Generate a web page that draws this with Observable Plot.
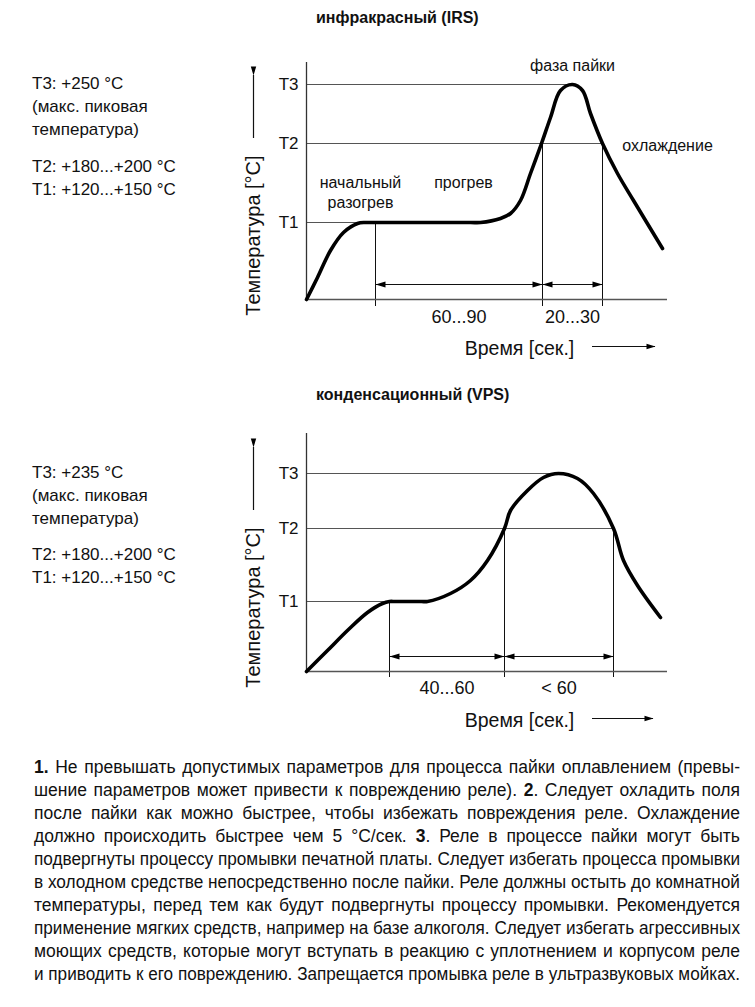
<!DOCTYPE html>
<html><head><meta charset="utf-8">
<script src="https://cdn.jsdelivr.net/npm/d3@7"></script>
<script src="https://cdn.jsdelivr.net/npm/@observablehq/plot@0.6"></script>
<style>
body{margin:0;background:#fff;font-family:"Liberation Sans",Arial,sans-serif;color:#000}
#page{position:relative;width:755px;height:1007px;overflow:hidden;background:#fff}
.abs{position:absolute;white-space:nowrap;z-index:2;color:#111}
.title{font-weight:bold;font-size:16px;line-height:20px}
.note{font-size:17px;line-height:23px}
.cap{font-size:17.5px;line-height:23px}
.plotbox{position:absolute;left:0;z-index:1}
</style></head><body><div id="page"></div>
<script>
// ---------- data ----------
const levelNames = ["T1", "T2", "T3"];

// IRS (infrared) profile, arbitrary time / temperature units
const irsTime = [0, 11, 24, 37, 51, 59, 66, 72, 164, 174, 194, 204, 214, 224, 235, 244, 254, 266, 276, 284, 296, 311, 327, 356];
const irsTemp = [0, 22, 49, 67, 76, 77, 77, 77, 77, 77, 81, 86, 99, 126, 156, 182, 209, 215, 209, 186, 156, 126, 99, 51];
const irsLevels = [77, 156, 215];
const irsLevelEnds = [69, 296, 266];
const irsMarkers = [69, 236, 296];
const irsMarkerLevel = [0, 1, 1];
const irsIntervalLabels = ["60...90", "20...30"];
const irsPhaseLabels = ["начальный", "разогрев", "прогрев", "фаза пайки", "охлаждение"];
const irsPhaseTime = [54, 54, 157, 266, 361];
const irsPhaseTemp = [117, 97, 117, 234, 154];
const irsTitle = "инфракрасный (IRS)";
const irsNotes = [["T3: +250 °C", "(макс. пиковая", "температура)"], ["T2: +180...+200 °C", "T1: +120...+150 °C"]];

// VPS (vapour phase) profile
const vpsTime = [0, 21, 42, 61, 76, 83, 89, 115, 121, 144, 164, 181, 198, 204, 221, 237, 252, 271, 287, 307, 317, 331, 354];
const vpsTemp = [0, 21, 42, 59, 68, 70, 70, 70, 70, 78, 91, 111, 143, 161, 181, 194, 198, 193, 178, 143, 111, 86, 54];
const vpsLevels = [70, 143, 198];
const vpsLevelEnds = [83, 307, 252];
const vpsMarkers = [83, 198, 307];
const vpsMarkerLevel = [0, 1, 1];
const vpsIntervalLabels = ["40...60", "< 60"];
const vpsTitle = "конденсационный (VPS)";
const vpsNotes = [["T3: +235 °C", "(макс. пиковая", "температура)"], ["T2: +180...+200 °C", "T1: +120...+150 °C"]];

const yTitle = "Температура [°C]";
const xTitle = "Время [сек.]";

const captionLines = [
  "<b>1.</b> Не превышать допустимых параметров для процесса пайки оплавлением (превы-",
  "шение параметров может привести к повреждению реле). <b>2</b>. Следует охладить поля",
  "после пайки как можно быстрее, чтобы избежать повреждения реле. Охлаждение",
  "должно происходить быстрее чем 5 °C/сек. <b>3</b>. Реле в процессе пайки могут быть",
  "подвергнуты процессу промывки печатной платы. Следует избегать процесса промывки",
  "в холодном средстве непосредственно после пайки. Реле должны остыть до комнатной",
  "температуры, перед тем как будут подвергнуты процессу промывки. Рекомендуется",
  "применение мягких средств, например на базе алкоголя. Следует избегать агрессивных",
  "моющих средств, которые могут вступать в реакцию с уплотнением и корпусом реле",
  "и приводить к его повреждению. Запрещается промывка реле в ультразвуковых мойках."
];

// ---------- helpers ----------
function head(dir) {
  return {
    draw(ctx, size) {
      const s = Math.sqrt(size / Math.PI);
      const L = 2.5 * s, w = 0.75 * s;
      const pts = [[0, 0], [-L, -w], [-L, w]].map(([x, y]) => {
        if (dir === "left") return [-x, y];
        if (dir === "up") return [y, x];
        return [x, y];
      });
      ctx.moveTo(pts[0][0], pts[0][1]);
      ctx.lineTo(pts[1][0], pts[1][1]);
      ctx.lineTo(pts[2][0], pts[2][1]);
      ctx.closePath();
    }
  };
}
const FONT = '"Liberation Sans", Arial, sans-serif';

function chart(c) {
  const curve = c.time.map((t, i) => ({t, v: c.temp[i]}));
  const levels = levelNames.map((n, i) => ({name: n, v: c.levels[i], end: c.levelEnds[i]}));
  const markers = c.markers.map((t, i) => ({t, top: c.levels[c.markerLevel[i]]}));
  const intervals = c.intervalLabels.map((label, i) => ({start: c.markers[i], end: c.markers[i + 1], label}));
  const L = c.layout;
  const marks = [
    Plot.ruleY(levels, {y: "v", x1: 0, x2: "end", stroke: "#555", strokeWidth: 1}),
    Plot.ruleX(markers, {x: "t", y1: "top", y2: L.tickBottom, stroke: "#111", strokeWidth: 1}),
    Plot.ruleX([0], {y1: 0, y2: c.yMax, stroke: "#333", strokeWidth: 1.3}),
    Plot.ruleY([0], {x1: 0, x2: c.xMax, stroke: "#555", strokeWidth: 1.3}),
    Plot.ruleY(intervals, {y: L.arrowY, x1: "start", x2: "end", stroke: "#111", strokeWidth: 1}),
    Plot.dot(intervals, {x: "start", y: L.arrowY, symbol: head("left"), r: 4, fill: "#000", stroke: null}),
    Plot.dot(intervals, {x: "end", y: L.arrowY, symbol: head("right"), r: 4, fill: "#000", stroke: null}),
    Plot.line(curve, {x: "t", y: "v", curve: "catmull-rom", stroke: "#000", strokeWidth: 3.6, strokeLinecap: "round", strokeLinejoin: "round"}),
    Plot.text(intervals, {x: d => (d.start + d.end) / 2, y: L.labelY, text: "label", fontSize: 18, fill: "#111"}),
    Plot.text(levels, {x: 0, y: "v", text: "name", textAnchor: "end", dx: -8, fontSize: 17, fill: "#111"}),
    Plot.text([yTitle], {x: L.yTitleX, y: L.yTitleY, text: d => d, rotate: -90, fontSize: 20, fill: "#111"}),
    Plot.ruleX([L.yTitleX], {y1: L.yArrow[0], y2: L.yArrow[1], stroke: "#111", strokeWidth: 1.2}),
    Plot.dot([L.yTitleX], {x: d => d, y: L.yArrow[1], symbol: head("up"), r: 3.6, fill: "#000", stroke: null}),
    Plot.text([xTitle], {x: L.xTitleX, y: L.xTitleY, text: d => d, fontSize: 19.5, fill: "#111"}),
    Plot.ruleY([L.xArrowY], {x1: L.xArrow[0], x2: L.xArrow[1], stroke: "#111", strokeWidth: 1.2}),
    Plot.dot([L.xArrowY], {x: L.xArrow[1], y: d => d, symbol: head("right"), r: 3.6, fill: "#000", stroke: null})
  ];
  if (c.phases) {
    const phases = c.phases.labels.map((text, i) => ({text, t: c.phases.t[i], v: c.phases.v[i]}));
    marks.push(Plot.text(phases, {x: "t", y: "v", text: "text", fontSize: 16, fill: "#111"}));
  }
  return Plot.plot({
    width: 755, height: L.height,
    marginLeft: 306, marginRight: 88, marginTop: L.mt, marginBottom: L.mb,
    x: {domain: [0, c.xMax], axis: null},
    y: {domain: [0, c.yMax], axis: null},
    style: {fontFamily: FONT, background: "transparent", overflow: "visible"},
    marks
  });
}

const page = document.getElementById("page");
function place(node, top) {
  const box = document.createElement("div");
  box.className = "plotbox";
  box.style.top = top + "px";
  box.appendChild(node);
  page.appendChild(box);
}

place(chart({
  time: irsTime, temp: irsTemp, levels: irsLevels, levelEnds: irsLevelEnds,
  markers: irsMarkers, markerLevel: irsMarkerLevel, intervalLabels: irsIntervalLabels,
  phases: {labels: irsPhaseLabels, t: irsPhaseTime, v: irsPhaseTemp},
  xMax: 361, yMax: 237,
  layout: {height: 380, mt: 62, mb: 81, tickBottom: -7, arrowY: 15, labelY: -18,
    yTitleX: -53, yTitleY: 64, yArrow: [161, 224], xTitleX: 213, xTitleY: -49, xArrowY: -47, xArrow: [286, 349]}
}), 0);

place(chart({
  time: vpsTime, temp: vpsTemp, levels: vpsLevels, levelEnds: vpsLevelEnds,
  markers: vpsMarkers, markerLevel: vpsMarkerLevel, intervalLabels: vpsIntervalLabels,
  xMax: 361, yMax: 238,
  layout: {height: 380, mt: 53, mb: 89, tickBottom: -6, arrowY: 15, labelY: -17,
    yTitleX: -53, yTitleY: 64, yArrow: [161, 224], xTitleX: 213, xTitleY: -49, xArrowY: -47, xArrow: [286, 347]}
}), 380);

function addText(cls, html, left, top) {
  const d = document.createElement("div");
  d.className = "abs " + cls;
  d.style.left = left + "px";
  d.style.top = top + "px";
  d.innerHTML = html;
  page.appendChild(d);
  return d;
}
addText("title", irsTitle, 316, 8);
addText("title", vpsTitle, 316, 385);
addText("note", irsNotes[0].join("<br>"), 32, 72);
addText("note", irsNotes[1].join("<br>"), 32, 155);
addText("note", vpsNotes[0].join("<br>"), 32, 461);
addText("note", vpsNotes[1].join("<br>"), 32, 543);

// caption, justified line by line
const capLeft = 34, capWidth = 706, capTop = 756;
captionLines.forEach((line, i) => {
  const d = addText("cap", "", capLeft, capTop + i * 23);
  const s = document.createElement("span");
  s.style.display = "inline-block";
  s.style.transformOrigin = "0 0";
  s.innerHTML = line;
  d.appendChild(s);
  const w = s.getBoundingClientRect().width;
  const spaces = (s.textContent.match(/ /g) || []).length;
  if (w < capWidth) {
    s.style.wordSpacing = ((capWidth - w) / spaces) + "px";
  } else {
    s.style.transform = "scaleX(" + (capWidth / w) + ")";
  }
});
</script></body></html>
